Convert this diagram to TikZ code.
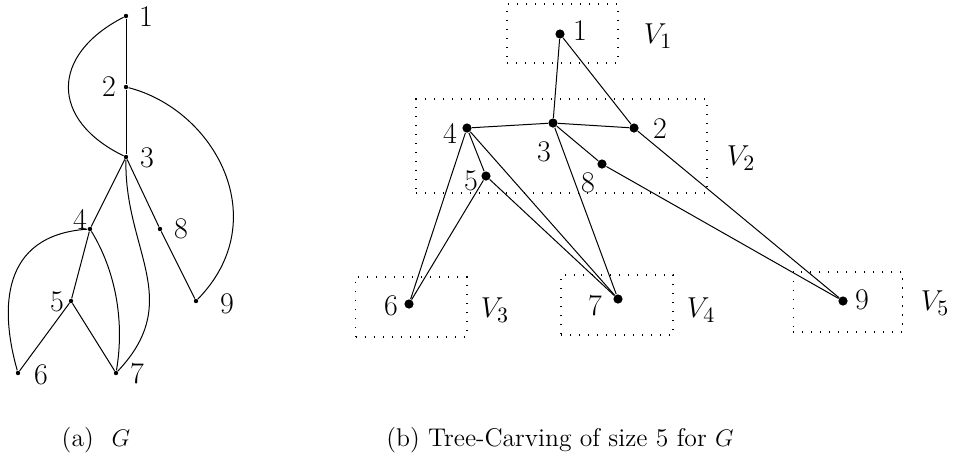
\documentclass[tikz,border=0pt]{standalone}
\usepackage{tikz}
\usetikzlibrary{positioning}

\begin{document}
\begin{tikzpicture}[
  x=0.5pt, y=-0.5pt, line width=0.5pt,
  sdot/.style={circle, fill, inner sep=0pt, minimum size=2.2pt},
  bdot/.style={circle, fill, inner sep=0pt, minimum size=4.6pt},
  lbl/.style={font=\fontsize{15}{17}\selectfont, inner sep=0pt},
  part/.style={draw, dash pattern=on 0.6pt off 3.9pt, line width=0.6pt,
    inner sep=0pt},
  capt/.style={font=\fontsize{12.8}{15}\selectfont}
]
  \useasboundingbox (0,0) rectangle (953,473);

  % (a) the graph G
  \node[sdot] (a1) at (126,16) {};
  \node[sdot] (a2) at (126,87) {};
  \node[sdot] (a3) at (126,157) {};
  \node[sdot] (a4) at (90,229) {};
  \node[sdot] (a8) at (160,229) {};
  \node[sdot] (a5) at (71,301) {};
  \node[sdot] (a9) at (196,301) {};
  \node[sdot] (a6) at (18,373) {};
  \node[sdot] (a7) at (116,373) {};

  \node[lbl] (la1) at (146,17) {1};
  \node[lbl] (la2) at (109,87) {2};
  \node[lbl] (la3) at (147,158) {3};
  \node[lbl] (la4) at (80,219) {4};
  \node[lbl] (la8) at (181,229) {8};
  \node[lbl] (la5) at (57,302) {5};
  \node[lbl] (la9) at (227,304) {9};
  \node[lbl] (la6) at (41,375) {6};
  \node[lbl] (la7) at (137,374) {7};

  \draw (a1) -- (a2) -- (a3);
  \draw (a3) -- (a4);
  \draw (a3) -- (a8) -- (a9);
  \draw (a4) -- (a5);
  \draw (a5) -- (a6);
  \draw (a5) -- (a7);
  \draw (a1) .. controls (50,55) and (50,120) .. (a3);
  \draw (a2) .. controls (215,110) and (275,220) .. (a9);
  \draw (a3) .. controls (124,250) and (185,300) .. (a7);
  \draw (a4) .. controls (0,235) and (0,310) .. (a6);
  \draw (a4) .. controls (115,270) and (125,320) .. (a7);

  \node[capt] (cap-a) at (96,440) {(a)\hspace{0.7em}$G$};

  % (b) the tree-carving
  \node[part, minimum width=55.5pt, minimum height=29.5pt] (p1) at (562.5,33.5) {};
  \node[part, minimum width=145.5pt, minimum height=47pt] (p2) at (561.5,146) {};
  \node[part, minimum width=55.7pt, minimum height=30pt] (p3) at (411.3,307) {};
  \node[part, minimum width=56pt, minimum height=30pt] (p4) at (617,305) {};
  \node[part, minimum width=54.8pt, minimum height=30pt] (p5) at (848,302) {};

  \node[lbl] (lp1) at (658,36) {$V_1$};
  \node[lbl] (lp2) at (741,158) {$V_2$};
  \node[lbl] (lp3) at (495,310) {$V_3$};
  \node[lbl] (lp4) at (701,310) {$V_4$};
  \node[lbl] (lp5) at (935,303) {$V_5$};

  \node[bdot] (b1) at (560,34) {};
  \node[bdot] (b3) at (553,123) {};
  \node[bdot] (b4) at (467,128) {};
  \node[bdot] (b2) at (634,128) {};
  \node[bdot] (b8) at (602,164) {};
  \node[bdot] (b5) at (486,176) {};
  \node[bdot] (b6) at (409,304) {};
  \node[bdot] (b7) at (618,299) {};
  \node[bdot] (b9) at (843,301) {};

  \node[lbl] (lb1) at (580,31) {1};
  \node[lbl] (lb4) at (450,133) {4};
  \node[lbl] (lb3) at (544,152) {3};
  \node[lbl] (lb2) at (660,129) {2};
  \node[lbl] (lb5) at (471,181) {5};
  \node[lbl] (lb8) at (588,183) {8};
  \node[lbl] (lb6) at (391,306) {6};
  \node[lbl] (lb7) at (595,306) {7};
  \node[lbl] (lb9) at (862,300) {9};

  \draw (b1) -- (b3);
  \draw (b1) -- (b2);
  \draw (b4) -- (b3) -- (b2);
  \draw (b4) -- (b6);
  \draw (b4) -- (b5);
  \draw (b4) -- (b7);
  \draw (b5) -- (b6);
  \draw (b5) -- (b7);
  \draw (b3) -- (b7);
  \draw (b3) -- (b8) -- (b9);
  \draw (b2) -- (b9);

  \node[capt] (cap-b) at (560,440) {(b) Tree-Carving of size 5 for $G$};
\end{tikzpicture}
\end{document}
